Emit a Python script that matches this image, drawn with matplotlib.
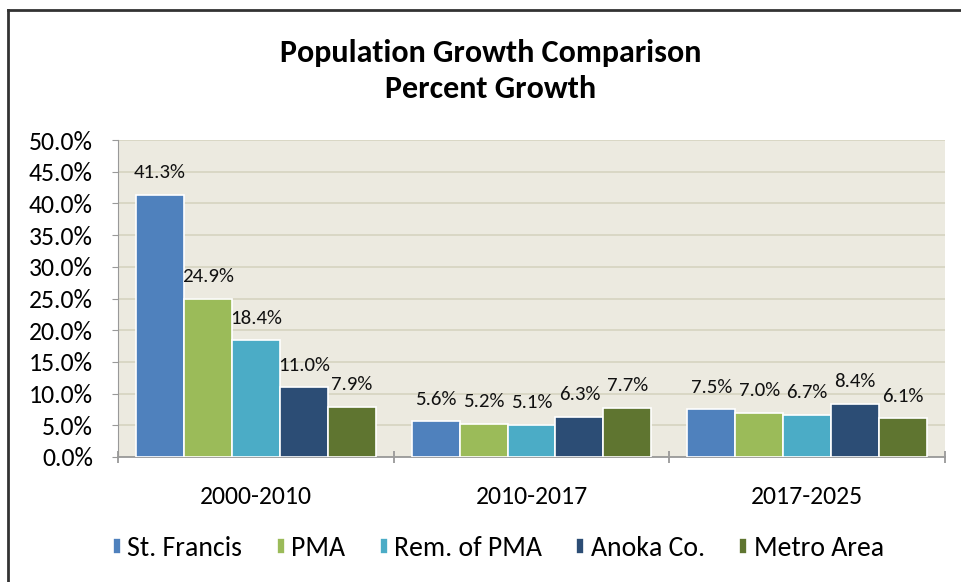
import matplotlib.pyplot as plt
import numpy as np
from matplotlib.lines import Line2D

# data
periods = ['2000-2010', '2010-2017', '2017-2025']
series = ['St. Francis', 'PMA', 'Rem. of PMA', 'Anoka Co.', 'Metro Area']
st_francis = [41.3, 5.6, 7.5]
pma = [24.9, 5.2, 7.0]
rem_pma = [18.4, 5.1, 6.7]
anoka = [11.0, 6.3, 8.4]
metro = [7.9, 7.7, 6.1]
colors = ['#4F81BD', '#9BBB59', '#4BACC6', '#2C4D75', '#5F7530']

font = ['Carlito', 'DejaVu Sans']
plt.rcParams['font.family'] = font

fig = plt.figure(figsize=(9.62, 5.82), dpi=100)
ax = fig.add_axes([118 / 962, 1 - 457 / 582, (945 - 118) / 962, (457 - 140) / 582])

# outer frame (only top and left edges are inside the picture)
fig.add_artist(Line2D([8 / 962, 8 / 962], [0, 1 - 10 / 582], transform=fig.transFigure,
                      color='#333333', lw=2))
fig.add_artist(Line2D([8 / 962, 1], [1 - 10 / 582, 1 - 10 / 582], transform=fig.transFigure,
                      color='#333333', lw=2))

ax.set_facecolor('#ECEAE0')
x = np.arange(len(periods))
width = 0.174
all_vals = [st_francis, pma, rem_pma, anoka, metro]
for i, (name, vals) in enumerate(zip(series, all_vals)):
    pos = x + (i - 2) * width
    ax.bar(pos, vals, width, color=colors[i], edgecolor='white', linewidth=1.2,
           label=name, zorder=3)
    for px, v in zip(pos, vals):
        ax.annotate(f'{v:.1f}%', (px, v), xytext=(0, 16), textcoords='offset points',
                    ha='center', va='center', fontsize=15, color='#111111')

ax.set_xlim(-0.5, 2.5)
ax.set_ylim(0, 50)
ax.set_yticks(np.arange(0, 50.1, 5))
ax.set_yticklabels([f'{t:.1f}%' for t in np.arange(0, 50.1, 5)], fontsize=18.5)
ax.yaxis.grid(True, color='#D8D5C3', lw=1.3, zorder=0)
ax.tick_params(axis='y', length=4, color='#999999', pad=14)

ax.set_xticks(x)
ax.set_xticklabels(periods, fontsize=18.5)
ax.tick_params(axis='x', length=0, pad=20)
# category boundary ticks
ax.set_xticks([-0.5, 0.5, 1.5, 2.5], minor=True)
ax.tick_params(axis='x', which='minor', length=8, color='#999999', width=1.3, direction='inout')

for s in ['top', 'right']:
    ax.spines[s].set_visible(False)
ax.spines['left'].set_color('#999999')
ax.spines['bottom'].set_color('#999999')
ax.spines['bottom'].set_linewidth(1.3)

fig.text(491 / 962, 1 - 53 / 582, 'Population Growth Comparison', ha='center', va='center',
         fontsize=23, fontweight='bold')
fig.text(491 / 962, 1 - 89 / 582, 'Percent Growth', ha='center', va='center',
         fontsize=23, fontweight='bold')

fig.legend(loc='center', bbox_to_anchor=(0.518, 1 - 548 / 582), ncol=5, frameon=False,
           prop={'size': 20}, handlelength=0.29, handleheight=0.5,
           handletextpad=0.22, columnspacing=1.25)

plt.savefig('out.png', dpi=100, facecolor='white')
